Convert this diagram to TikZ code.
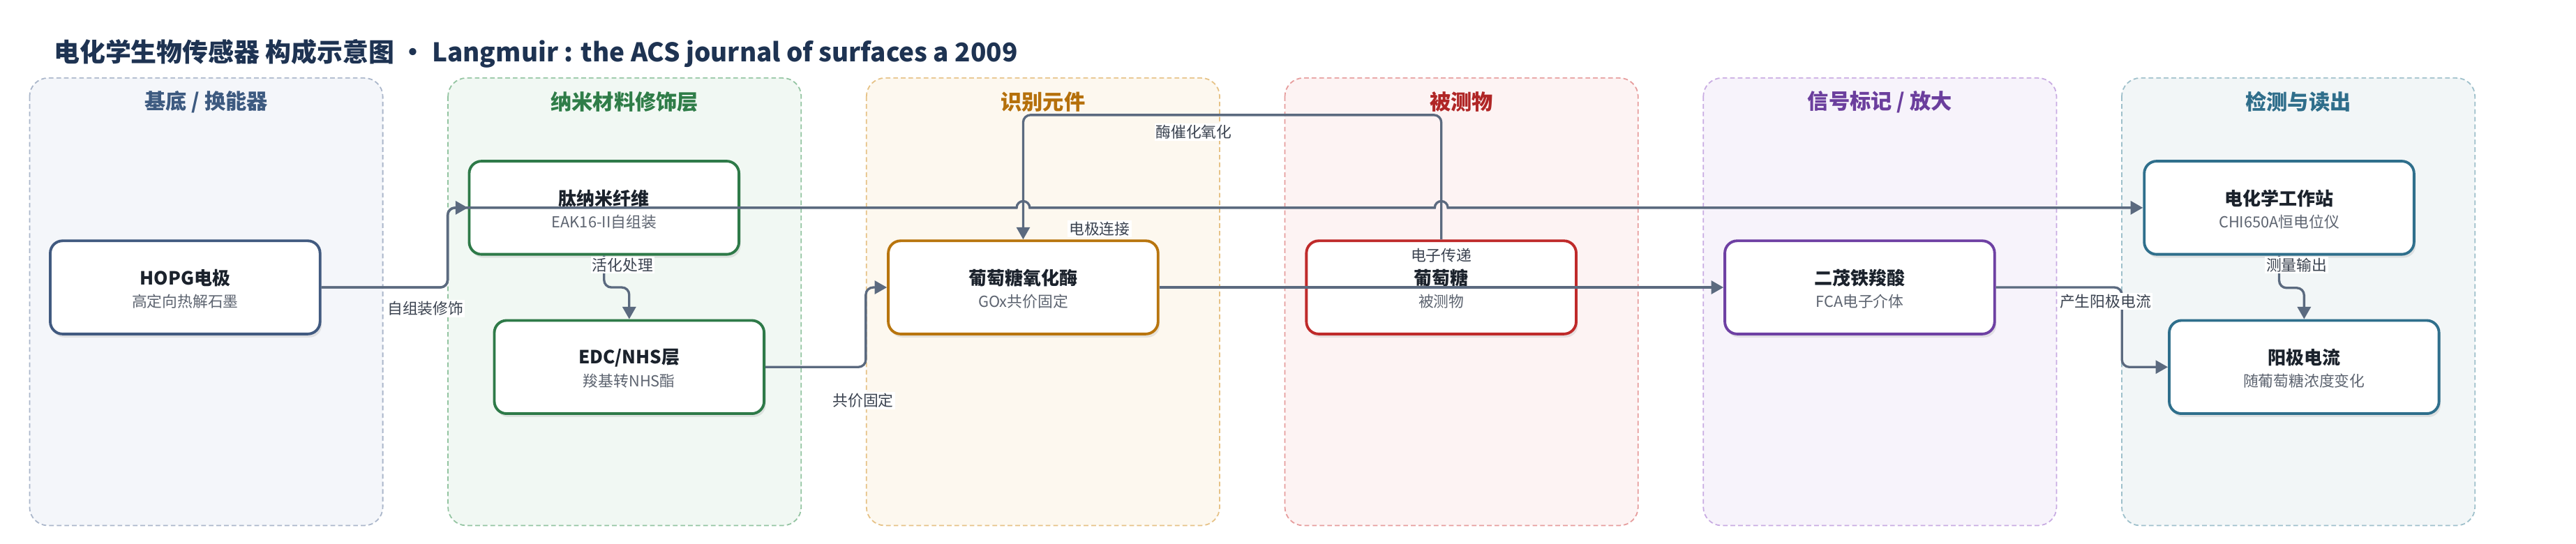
\documentclass[tikz,border=0pt]{standalone}
\usepackage{fontspec}
\setmainfont{Noto Sans CJK SC}
\usetikzlibrary{arrows.meta,shadows}

\definecolor{titlecol}{HTML}{1E3352}
\definecolor{edgecol}{HTML}{5B6A7F}
\definecolor{nametext}{HTML}{1B222C}
\definecolor{subtext}{HTML}{5D6470}
\definecolor{lbltext}{HTML}{3B4350}
% lane colours: fill, dashes, heading, box border
\definecolor{substrF}{HTML}{F4F6FA}\definecolor{substrD}{HTML}{AAB6CA}\definecolor{substrH}{HTML}{3D5A80}\definecolor{substrB}{HTML}{415A80}
\definecolor{nanoF}{HTML}{F1F8F3}\definecolor{nanoD}{HTML}{93C4A1}\definecolor{nanoH}{HTML}{2F7D48}\definecolor{nanoB}{HTML}{2E7A48}
\definecolor{recogF}{HTML}{FDF8EF}\definecolor{recogD}{HTML}{E6C286}\definecolor{recogH}{HTML}{B5700B}\definecolor{recogB}{HTML}{B8750E}
\definecolor{analyF}{HTML}{FDF3F3}\definecolor{analyD}{HTML}{E69C9C}\definecolor{analyH}{HTML}{B02626}\definecolor{analyB}{HTML}{BF2A2A}
\definecolor{signalF}{HTML}{F7F3FB}\definecolor{signalD}{HTML}{C8ABE2}\definecolor{signalH}{HTML}{6B3E9D}\definecolor{signalB}{HTML}{6E40A3}
\definecolor{readF}{HTML}{F2F6F7}\definecolor{readD}{HTML}{9EC0CB}\definecolor{readH}{HTML}{2F6E8B}\definecolor{readB}{HTML}{2F6F8C}

\begin{document}
\begin{tikzpicture}[x=0.023546cm,y=-0.023546cm,
  lane/.style={rounded corners=7.5pt,line width=0.5pt,dash pattern=on 1.9pt off 1.2pt},
  lanehead/.style={font=\bfseries\fontsize{8.6}{10}\selectfont},
  box/.style={draw,fill=white,rounded corners=5pt,line width=1.1pt,inner sep=0pt,minimum width=110pt,minimum height=38pt,
    drop shadow={shadow xshift=0.7pt,shadow yshift=-1.4pt,opacity=0.18}},
  boxname/.style={font=\bfseries\fontsize{7.4}{9}\selectfont,text=nametext},
  boxsub/.style={font=\fontsize{6.2}{7.5}\selectfont,text=subtext},
  edge/.style={draw=edgecol,line width=0.95pt,rounded corners=3pt,-{Triangle[length=5pt,width=5.4pt]}},
  lbl/.style={font=\fontsize{6.2}{7.5}\selectfont,text=lbltext,fill=white,inner sep=0.6pt}]

\useasboundingbox (0,0) rectangle (1568,331);

% Title
\node[anchor=west,inner sep=0pt,font=\bfseries\fontsize{10.5}{12}\selectfont,text=titlecol] (title) at (32.5,32.6)
  {电化学生物传感器 构成示意图 · Langmuir : the ACS journal of surfaces a 2009};

% Lanes
\filldraw[lane,draw=substrD,fill=substrF] (18,47.5) rectangle (233,320);
\node[lanehead,text=substrH] (head-substr) at (125.5,62) {基底 / 换能器};
\filldraw[lane,draw=nanoD,fill=nanoF] (272.7,47.5) rectangle (487.7,320);
\node[lanehead,text=nanoH] (head-nano) at (380.2,62) {纳米材料修饰层};
\filldraw[lane,draw=recogD,fill=recogF] (527.4,47.5) rectangle (742.4,320);
\node[lanehead,text=recogH] (head-recog) at (634.9,62) {识别元件};
\filldraw[lane,draw=analyD,fill=analyF] (782.1,47.5) rectangle (997.1,320);
\node[lanehead,text=analyH] (head-analy) at (889.6,62) {被测物};
\filldraw[lane,draw=signalD,fill=signalF] (1036.8,47.5) rectangle (1251.8,320);
\node[lanehead,text=signalH] (head-signal) at (1144.3,62) {信号标记 / 放大};
\filldraw[lane,draw=readD,fill=readF] (1291.5,47.5) rectangle (1506.5,320);
\node[lanehead,text=readH] (head-read) at (1399,62) {检测与读出};

% Boxes
\node[box,draw=substrB] (hopg) at (112.7,175) {};
\node[boxname] (hopg-n) at ([yshift=3.8pt]hopg.center) {HOPG电极};
\node[boxsub] (hopg-s) at ([yshift=-5.7pt]hopg.center) {高定向热解石墨};

\node[box,draw=nanoB] (pep) at (367.7,126.5) {};
\node[boxname] (pep-n) at ([yshift=3.8pt]pep.center) {肽纳米纤维};
\node[boxsub] (pep-s) at ([yshift=-5.7pt]pep.center) {EAK16-II自组装};

\node[box,draw=nanoB] (edc) at (383,223.5) {};
\node[boxname] (edc-n) at ([yshift=3.8pt]edc.center) {EDC/NHS层};
\node[boxsub] (edc-s) at ([yshift=-5.7pt]edc.center) {羧基转NHS酯};

\node[box,draw=recogB] (gox) at (622.8,175) {};
\node[boxname] (gox-n) at ([yshift=3.8pt]gox.center) {葡萄糖氧化酶};
\node[boxsub] (gox-s) at ([yshift=-5.7pt]gox.center) {GOx共价固定};

\node[box,draw=analyB] (glu) at (877.3,175) {};
\node[boxname] (glu-n) at ([yshift=3.8pt]glu.center) {葡萄糖};
\node[boxsub] (glu-s) at ([yshift=-5.7pt]glu.center) {被测物};

\node[box,draw=signalB] (fca) at (1132,175) {};
\node[boxname] (fca-n) at ([yshift=3.8pt]fca.center) {二茂铁羧酸};
\node[boxsub] (fca-s) at ([yshift=-5.7pt]fca.center) {FCA电子介体};

\node[box,draw=readB] (station) at (1387.3,126.5) {};
\node[boxname] (station-n) at ([yshift=3.8pt]station.center) {电化学工作站};
\node[boxsub] (station-s) at ([yshift=-5.7pt]station.center) {CHI650A恒电位仪};

\node[box,draw=readB] (anode) at (1402.5,223.5) {};
\node[boxname] (anode-n) at ([yshift=3.8pt]anode.center) {阳极电流};
\node[boxsub] (anode-s) at ([yshift=-5.7pt]anode.center) {随葡萄糖浓度变化};

% Connectors
\draw[edge] (hopg.east) -- (272.5,175) -- (272.5,126.5) -- (pep.west);
\draw[edge] (hopg.east) -- (272.5,175) -- (272.5,126.5) -- (600,126.5) [sharp corners]
  -- (618.8,126.5) arc[start angle=180,end angle=0,radius=2.68pt]
  -- (873.3,126.5) arc[start angle=180,end angle=0,radius=2.68pt] -- (station.west);
\draw[edge] (pep.south) -- (367.7,175) -- (383,175) -- (edc.north);
\draw[edge] (edc.east) -- (527,223.5) -- (527,175) -- (gox.west);
\draw[edge] (glu.north) -- (877.3,70) -- (622.8,70) -- (gox.north);
\draw[edge] (gox.east) -- (fca.west);
\draw[edge] (fca.east) -- (1291.6,175) -- (1291.6,223.5) -- (anode.west);
\draw[edge] (station.south) -- (1387.3,175.3) -- (1402.5,175.3) -- (anode.north);

% Connector labels
\node[lbl] (lbl-self) at (259,188) {自组装修饰};
\node[lbl] (lbl-act) at (379,161.4) {活化处理};
\node[lbl] (lbl-cov) at (525.4,244) {共价固定};
\node[lbl] (lbl-enz) at (726.7,80.5) {酶催化氧化};
\node[lbl] (lbl-elec) at (669.3,139.3) {电极连接};
\node[lbl] (lbl-etr) at (877.3,155.5) {电子传递};
\node[lbl] (lbl-cur) at (1281.5,183.4) {产生阳极电流};
\node[lbl] (lbl-meas) at (1398,161.4) {测量输出};

\end{tikzpicture}
\end{document}
